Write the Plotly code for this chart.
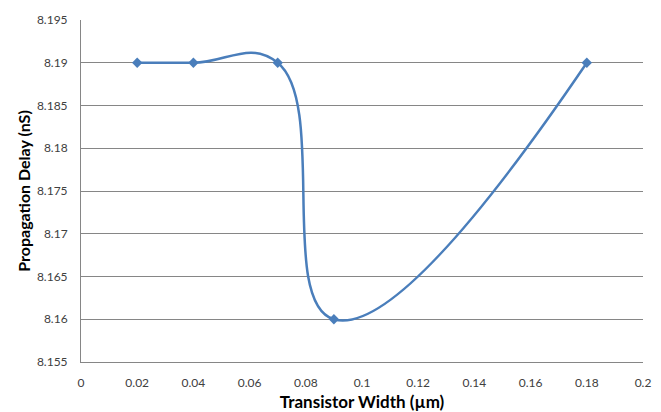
import plotly.graph_objects as go

widths = [0.02, 0.04, 0.07, 0.09, 0.18]
delays = [8.19, 8.19, 8.19, 8.16, 8.19]
x_ticks = [0, 0.02, 0.04, 0.06, 0.08, 0.1, 0.12, 0.14, 0.16, 0.18, 0.2]
x_labels = ["0", "0.02", "0.04", "0.06", "0.08", "0.1", "0.12", "0.14", "0.16", "0.18", "0.2"]
y_ticks = [8.155, 8.16, 8.165, 8.17, 8.175, 8.18, 8.185, 8.19, 8.195]
y_labels = ["8.155", "8.16", "8.165", "8.17", "8.175", "8.18", "8.185", "8.19", "8.195"]

fig = go.Figure()
fig.add_trace(go.Scatter(
    x=widths, y=delays, mode="lines+markers",
    line=dict(color="#4A7EBB", width=2.5, shape="spline", smoothing=1.3),
    marker=dict(symbol="diamond", size=8, color="#4A7EBB"),
    showlegend=False,
))

# page body has an 8px default margin; offsets compensate
fig.update_layout(
    width=653, height=404,
    margin=dict(l=73, r=18, t=12, b=50),
    paper_bgcolor="white", plot_bgcolor="white",
    font=dict(family="Lato, Open Sans, sans-serif", color="#404040", size=12),
)
fig.update_xaxes(
    range=[0, 0.2], tickvals=x_ticks, ticktext=x_labels, automargin=False,
    showgrid=False, zeroline=False, showline=True, linecolor="#868686", linewidth=1,
    ticks="outside", ticklen=10, tickcolor="rgba(0,0,0,0)",
    tickfont=dict(size=12, color="#404040"),
    title=dict(text="<b>Transistor Width (µm)</b>", font=dict(size=17, color="#000000"), standoff=6),
)
fig.update_yaxes(
    range=[8.155, 8.195], tickvals=y_ticks, ticktext=y_labels, automargin=False,
    showgrid=True, gridcolor="#868686", gridwidth=1, zeroline=False,
    showline=True, linecolor="#868686", linewidth=1,
    ticks="outside", ticklen=10, tickcolor="rgba(0,0,0,0)",
    tickfont=dict(size=12, color="#404040"),
    title=dict(text="<b>Propagation Delay (nS)</b>", font=dict(size=16, color="#000000"), standoff=2),
)

fig.write_html("out.html")
